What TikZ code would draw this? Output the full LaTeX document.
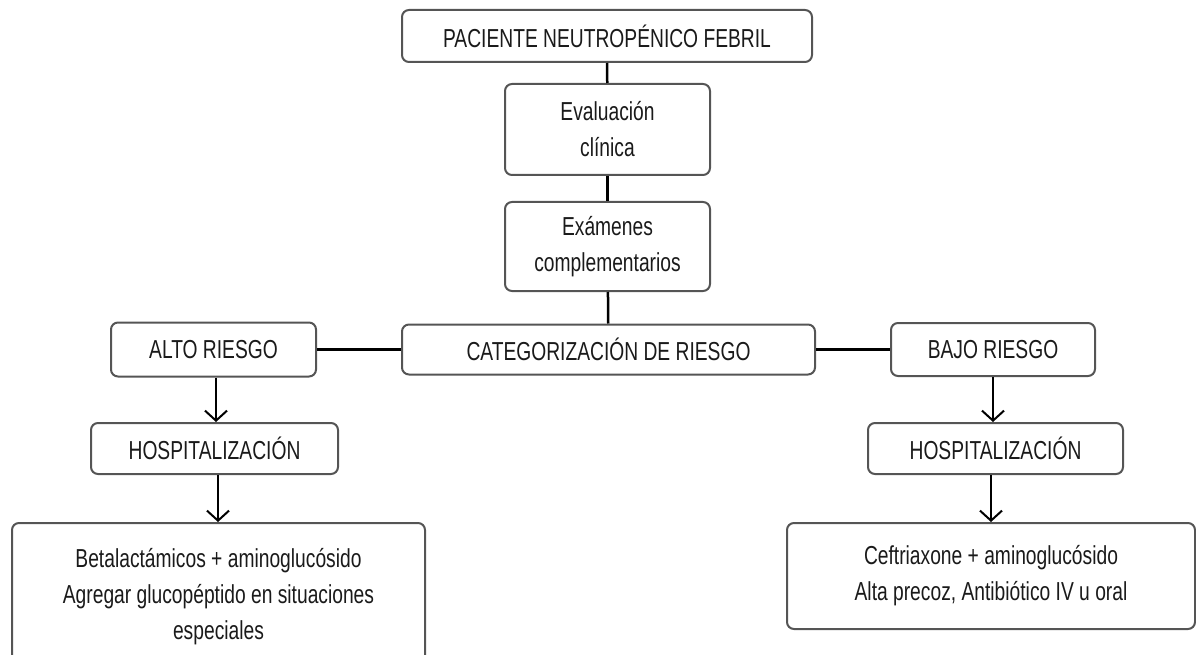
\documentclass[tikz,border=0pt]{standalone}
\usepackage{fontspec}
\setmainfont{Liberation Sans}[FakeStretch=0.74]
\usetikzlibrary{arrows.meta}
\definecolor{boxline}{HTML}{555555}
\definecolor{txt}{HTML}{1A1A1A}
\begin{document}
\begin{tikzpicture}[x=1pt,y=-1pt,
  box/.style={draw=boxline,line width=2pt,rounded corners=7pt,align=center,
    inner sep=0pt,text=txt,font=\fontsize{26}{36}\selectfont},
  conn/.style={line width=2.5pt,black},
  arr/.style={conn,-{Straight Barb[length=10pt,width=22pt,line width=2pt]}}]
\useasboundingbox (0,0) rectangle (1196,655);
\node[box,minimum width=410,minimum height=52] (top) at (607,36) {PACIENTE NEUTROPÉNICO FEBRIL};
\node[box,minimum width=205,minimum height=91] (eval) at (607.5,129.5) {Evaluación\\clínica};
\node[box,minimum width=205,minimum height=89] (exam) at (607.5,246.5) {Exámenes\\complementarios};
\node[box,minimum width=413,minimum height=50] (cat) at (608.5,349.5) {CATEGORIZACIÓN DE RIESGO};
\node[box,minimum width=205,minimum height=54] (alto) at (213.5,349.5) {ALTO RIESGO};
\node[box,minimum width=204,minimum height=53] (bajo) at (993,349.5) {BAJO RIESGO};
\node[box,minimum width=247,minimum height=51] (hosp1) at (214.5,448.5) {HOSPITALIZACIÓN};
\node[box,minimum width=255,minimum height=51] (hosp2) at (995.5,448.5) {HOSPITALIZACIÓN};
\node[box,minimum width=413,minimum height=148] (trat1) at (218.5,597) {Betalactámicos + aminoglucósido\\Agregar glucopéptido en situaciones\\especiales};
\node[box,minimum width=408,minimum height=106] (trat2) at (991,576) {Ceftriaxone + aminoglucósido\\Alta precoz, Antibiótico IV u oral};
\draw[conn] (top) -- (eval);
\draw[conn] (eval) -- (exam);
\draw[conn] (exam) -- (cat);
\draw[conn] (alto) -- (cat);
\draw[conn] (cat) -- (bajo);
\draw[arr] (alto.south -| 216,0) -- (hosp1.north -| 216,0);
\draw[arr] (hosp1.south -| 218,0) -- (trat1.north -| 218,0);
\draw[arr] (bajo.south -| 993,0) -- (hosp2.north -| 993,0);
\draw[arr] (hosp2.south -| 991,0) -- (trat2.north -| 991,0);
\end{tikzpicture}
\end{document}
